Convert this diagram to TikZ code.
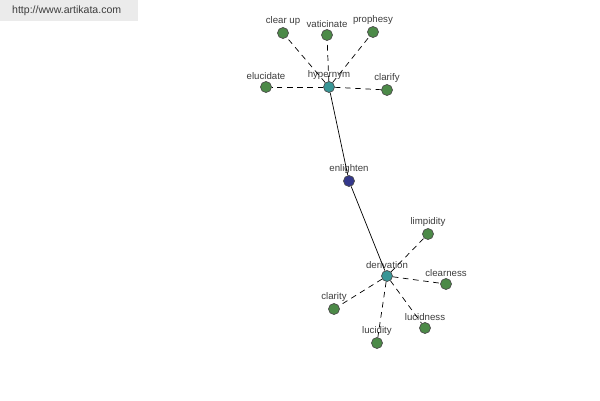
\documentclass[tikz,border=0pt]{standalone}
\usepackage{fontspec}
\setmainfont{Liberation Sans}
\usepackage{xcolor}
\usetikzlibrary{positioning}

\definecolor{leafgreen}{RGB}{76,138,72}
\definecolor{hubteal}{RGB}{56,150,150}
\definecolor{rootblue}{RGB}{52,56,140}
\definecolor{labelgray}{RGB}{60,60,60}

\begin{document}
\begin{tikzpicture}[x=0.02cm, y=-0.02cm,
    word/.style={draw=black!70, circle, minimum size=0.22cm, inner sep=0pt, fill=leafgreen,
      label={[label distance=0pt, inner sep=0.5pt, text=labelgray, font=\fontsize{5.5}{6}\selectfont]above:#1}},
    hub/.style={word=#1, fill=hubteal},
    root/.style={word=#1, fill=rootblue},
    rel/.style={dash pattern=on 3.2pt off 2.6pt, black}]
          \useasboundingbox (0,0) rectangle (600,400);
          % watermark
          \fill[black!8] (0,0) rectangle (138,21);
          \node[text=labelgray, font=\fontsize{6}{7}\selectfont, anchor=west] (site) at (6,11) {http://www.artikata.com};

          \node[root=enlighten] (enl) at (349,181) {};
          \node[hub=hypernym] (hyp) at (329,87) {};
          \node[hub=derivation] (der) at (387,276) {};

          % hypernym side
          \node[word=clear up] (clearup) at (283,33) {};
          \node[word=vaticinate] (vatic) at (327,35) {};
          \node[word=prophesy] (proph) at (373,32) {};
          \node[word=elucidate] (eluc) at (266,87) {};
          \node[word=clarify] (clarify) at (387,90) {};

          % derivation side
          \node[word=limpidity] (limp) at (428,234) {};
          \node[word=clearness] (clearn) at (446,284) {};
          \node[word=clarity] (clarity) at (334,309) {};
          \node[word=lucidity] (lucidity) at (377,343) {};
          \node[word=lucidness] (lucidn) at (425,328) {};

          \draw (enl) -- (hyp);
          \draw (enl) -- (der);

          \foreach \w in {clearup, vatic, proph, eluc, clarify}
            \draw[rel] (hyp) -- (\w);
          \foreach \w in {limp, clearn, clarity, lucidity, lucidn}
            \draw[rel] (der) -- (\w);
        \end{tikzpicture}
\end{document}
